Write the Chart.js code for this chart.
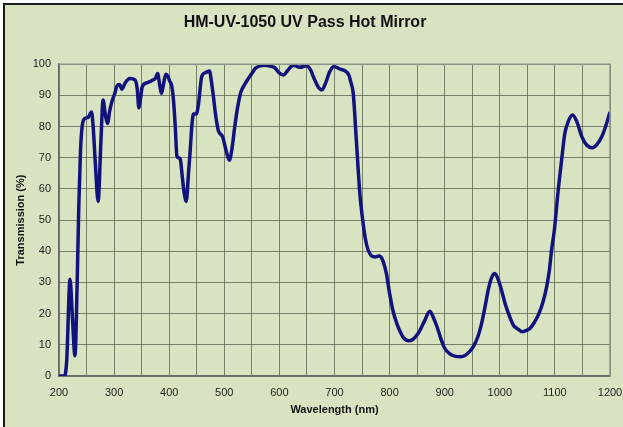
<!DOCTYPE html>
<html>
<head>
    <title>HM-UV-1050 UV Pass Hot Mirror</title>
    <script src="https://cdn.jsdelivr.net/npm/chart.js"></script>
    <style>
        body { margin: 0; background: #ffffff; }
        #wrap { position: relative; width: 623px; height: 427px; overflow: hidden; }
        #frame { position: absolute; left: 3px; top: 3px; width: 640px; height: 440px;
                 border-left: 2px solid #1a1a1a; border-top: 2px solid #1a1a1a; background: #d8e4c1; }
        #chart { position: absolute; left: 0; top: 0; }
    </style>
</head>
<body>
<div id="wrap">
    <div id="frame"></div>
    <canvas id="chart" width="623" height="427"></canvas>
</div>
<script>
// wavelength (nm) and transmission (%)
let wavelengths = [
    200, 210, 214, 220, 224, 229, 233, 236, 239, 242, 247, 253, 259, 262, 266, 271, 276, 280, 284, 288,
    292, 296, 301, 305, 310, 314, 320, 329, 338, 342, 345, 348, 351, 359, 368, 375, 379, 383, 386, 390,
    394, 398, 401, 404, 408, 411, 414, 417, 420, 424, 427, 431, 435, 438, 441, 444, 449, 453, 459, 466,
    473, 477, 480, 484, 489, 497, 503, 509, 514, 519, 524, 530, 537, 544, 550, 556, 565, 574, 583, 592,
    599, 607, 615, 625, 637, 650, 657, 664, 671, 677, 684, 691, 699, 709, 719, 726, 730, 734, 740, 746,
    752, 756, 761, 767, 774, 781, 786, 794, 800, 806, 813, 819, 825, 834, 842, 852, 863, 873, 880, 886,
    893, 900, 910, 920, 928, 937, 945, 952, 960, 967, 973, 979, 985, 991, 997, 1003, 1010, 1018, 1025, 1031,
    1041, 1048, 1055, 1062, 1070, 1078, 1085, 1090, 1094, 1099, 1106, 1112, 1118, 1124, 1132, 1140, 1149, 1158, 1168, 1176,
    1185, 1192, 1200
];
let transmission = [
    0, 0, 5, 31, 20, 6.5, 30, 55, 72, 80, 82.6, 83, 84.7, 80, 68, 56, 75, 88.5, 84, 81,
    85, 88, 90.5, 93, 93.5, 92, 94, 95.4, 95, 92, 86, 89, 92.7, 94, 94.7, 95.5, 97, 93, 90.6, 94,
    96.8, 96, 94.5, 93.5, 88, 80, 70.5, 70, 69.6, 63.5, 59, 56, 65, 72, 80, 84, 84, 87, 96, 97.3,
    97.8, 94, 90, 84, 78.8, 76.7, 72.5, 69.2, 73, 80, 86, 91, 93.5, 95.5, 97, 98.6, 99.5, 99.7, 99.4, 98.8,
    97.3, 96.5, 98, 99.7, 99, 99.5, 98, 95, 92.5, 91.7, 94, 97.5, 99.3, 98.5, 97.9, 96.5, 94, 90.6, 74.6, 58.5,
    48.9, 44, 40.4, 38.6, 38.2, 38.5, 37.7, 33, 26.5, 21, 16.9, 14.3, 12.3, 11.3, 11.7, 13.7, 17.5, 20.8, 18.5, 15.8,
    12, 8.9, 7, 6.3, 6.2, 6.6, 7.8, 9.4, 12.5, 16.9, 22, 27.6, 31.5, 32.9, 31, 27.6, 23, 19, 16.2, 15.3,
    14.2, 14.6, 15.3, 17, 19.6, 23.5, 28.6, 34, 40.4, 46.8, 59.6, 69, 77.8, 81.5, 83.7, 81.5, 76.7, 74, 73.2, 74.2,
    76.7, 80, 84.7
];
let xTicks = [200, 300, 400, 500, 600, 700, 800, 900, 1000, 1100, 1200];
let yTicks = [0, 10, 20, 30, 40, 50, 60, 70, 80, 90, 100];

let points = wavelengths.map((w, i) => ({ x: w, y: transmission[i] }));

const gridColor = 'rgba(85, 95, 75, 0.75)';

const ctx = document.getElementById('chart').getContext('2d');
const chart = new Chart(ctx, {
    type: 'line',
    data: {
        datasets: [{
            data: points,
            borderColor: '#12127e',
            borderWidth: 3.5,
            pointRadius: 0,
            cubicInterpolationMode: 'monotone',
            fill: false
        }]
    },
    options: {
        responsive: false,
        animation: false,
        layout: { padding: { left: 0, right: 13, top: 0, bottom: 0 } },
        plugins: {
            legend: { display: false },
            tooltip: { enabled: false },
            title: {
                display: true,
                text: 'HM-UV-1050 UV Pass Hot Mirror',
                color: '#111111',
                font: { family: 'Liberation Sans', size: 16, weight: 'bold' },
                padding: { top: 13, bottom: 32 }
            }
        },
        scales: {
            x: {
                type: 'linear',
                min: 200,
                max: 1200,
                afterBuildTicks: scale => {
                    let t = [];
                    for (let v = 200; v <= 1200; v += 50) t.push({ value: v });
                    scale.ticks = t;
                },
                afterFit: scale => {
                    scale.height = 51;
                    scale.paddingLeft = 0;
                    scale.paddingRight = 0;
                },
                ticks: {
                    autoSkip: false,
                    maxRotation: 0,
                    padding: 10,
                    color: '#222222',
                    font: { family: 'Liberation Sans', size: 11 },
                    callback: v => xTicks.includes(v) ? String(v) : ''
                },
                grid: { color: gridColor, lineWidth: 1, drawTicks: false },
                border: { color: '#6a6a6a', width: 1.5 },
                title: {
                    display: true,
                    text: 'Wavelength (nm)',
                    color: '#111111',
                    font: { family: 'Liberation Sans', size: 11, weight: 'bold' },
                    padding: { top: 0, bottom: 10 }
                }
            },
            y: {
                min: 0,
                max: 100,
                afterBuildTicks: scale => { scale.ticks = yTicks.map(v => ({ value: v })); },
                afterFit: scale => { scale.width = 59; },
                ticks: {
                    padding: 8,
                    color: '#222222',
                    font: { family: 'Liberation Sans', size: 11 }
                },
                grid: { color: gridColor, lineWidth: 1, drawTicks: false },
                border: { color: '#6a6a6a', width: 1.5 },
                title: {
                    display: true,
                    text: 'Transmission (%)',
                    color: '#111111',
                    font: { family: 'Liberation Sans', size: 11, weight: 'bold' },
                    padding: { top: 14, bottom: 0 }
                }
            }
        }
    },
    plugins: [{
        id: 'rightBorder',
        afterDraw: c => {
            const a = c.chartArea, g = c.ctx;
            g.save();
            g.strokeStyle = '#8a948a';
            g.lineWidth = 1.5;
            g.beginPath();
            g.moveTo(a.left, a.top);
            g.lineTo(a.right, a.top);
            g.lineTo(a.right, a.bottom);
            g.stroke();
            g.restore();
        }
    }]
});
</script>
</body>
</html>
